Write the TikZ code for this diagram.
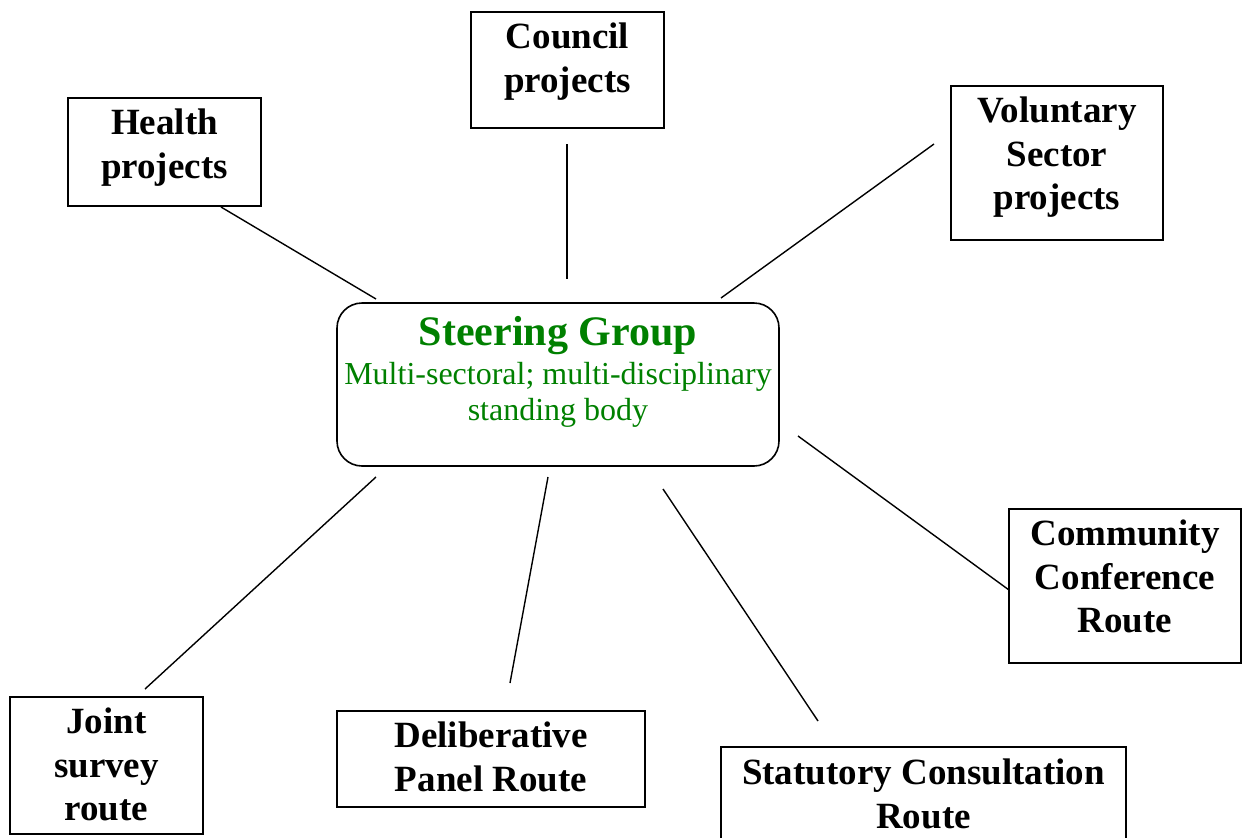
\documentclass[tikz,border=0pt]{standalone}
\usepackage{fontspec}
\setmainfont{Liberation Serif}
\definecolor{sggreen}{RGB}{0,128,0}
\begin{document}
\begin{tikzpicture}[x=1pt,y=-1pt,
  box/.style={draw, line width=1.6pt, rectangle, inner sep=0pt},
  lbl/.style={anchor=north, align=center, inner sep=0pt, font=\fontsize{37}{43.5}\selectfont\bfseries},
  conn/.style={line width=1.4pt}]
\path[use as bounding box] (0,0) rectangle (1245,838);

% boxes
\node[box, minimum width=193pt, minimum height=108pt] (health) at (164.5,152) {};
\node[box, minimum width=193pt, minimum height=116pt] (council) at (567.5,70) {};
\node[box, minimum width=212pt, minimum height=154pt] (vol) at (1057,163) {};
\node[box, rounded corners=25pt, minimum width=442pt, minimum height=163pt] (steer) at (558,384.5) {};
\node[box, minimum width=232pt, minimum height=154pt] (comm) at (1125,586) {};
\node[box, minimum width=193pt, minimum height=137pt] (joint) at (106.5,765.5) {};
\node[box, minimum width=308pt, minimum height=96pt] (delib) at (491,759) {};
\node[box, minimum width=405pt, minimum height=103pt] (stat) at (923.5,798.5) {};

% texts
\node[lbl] (healthT) at (164.5,109) {Health\\projects};
\node[lbl] (councilT) at (567.5,23) {Council\\projects};
\node[lbl] (volT) at (1057,97) {Voluntary\\Sector\\projects};
\node[lbl] (commT) at (1125,520) {Community\\Conference\\Route};
\node[lbl] (jointT) at (106.5,708) {Joint\\survey\\route};
\node[lbl] (delibT) at (491,722) {Deliberative\\Panel Route};
\node[lbl] (statT) at (923.5,759) {Statutory Consultation\\Route};

\node[anchor=base, inner sep=0pt, text=sggreen, font=\fontsize{42}{48}\selectfont\bfseries] (steerT) at (558,345) {Steering Group};
\node[anchor=north, align=center, inner sep=0pt, text=sggreen, font=\fontsize{32}{36.5}\selectfont] (steerS) at (558,362) {Multi-sectoral; multi-disciplinary\\standing body};

% connector end points
\coordinate (h1) at (221,207);  \coordinate (h2) at (376,299);
\coordinate (c1) at (567,144);  \coordinate (c2) at (567,279);
\coordinate (v1) at (934,144);  \coordinate (v2) at (721,298);
\coordinate (m1) at (798,436);  \coordinate (m2) at (1009,590);
\coordinate (j1) at (376,477);  \coordinate (j2) at (145,689);
\coordinate (d1) at (548,477);  \coordinate (d2) at (510,683);
\coordinate (s1) at (663,489);  \coordinate (s2) at (818,721);

\draw[conn] (h1) -- (h2);
\draw[conn] (c1) -- (c2);
\draw[conn] (v1) -- (v2);
\draw[conn] (m1) -- (m2);
\draw[conn] (j1) -- (j2);
\draw[conn] (d1) -- (d2);
\draw[conn] (s1) -- (s2);
\end{tikzpicture}
\end{document}
